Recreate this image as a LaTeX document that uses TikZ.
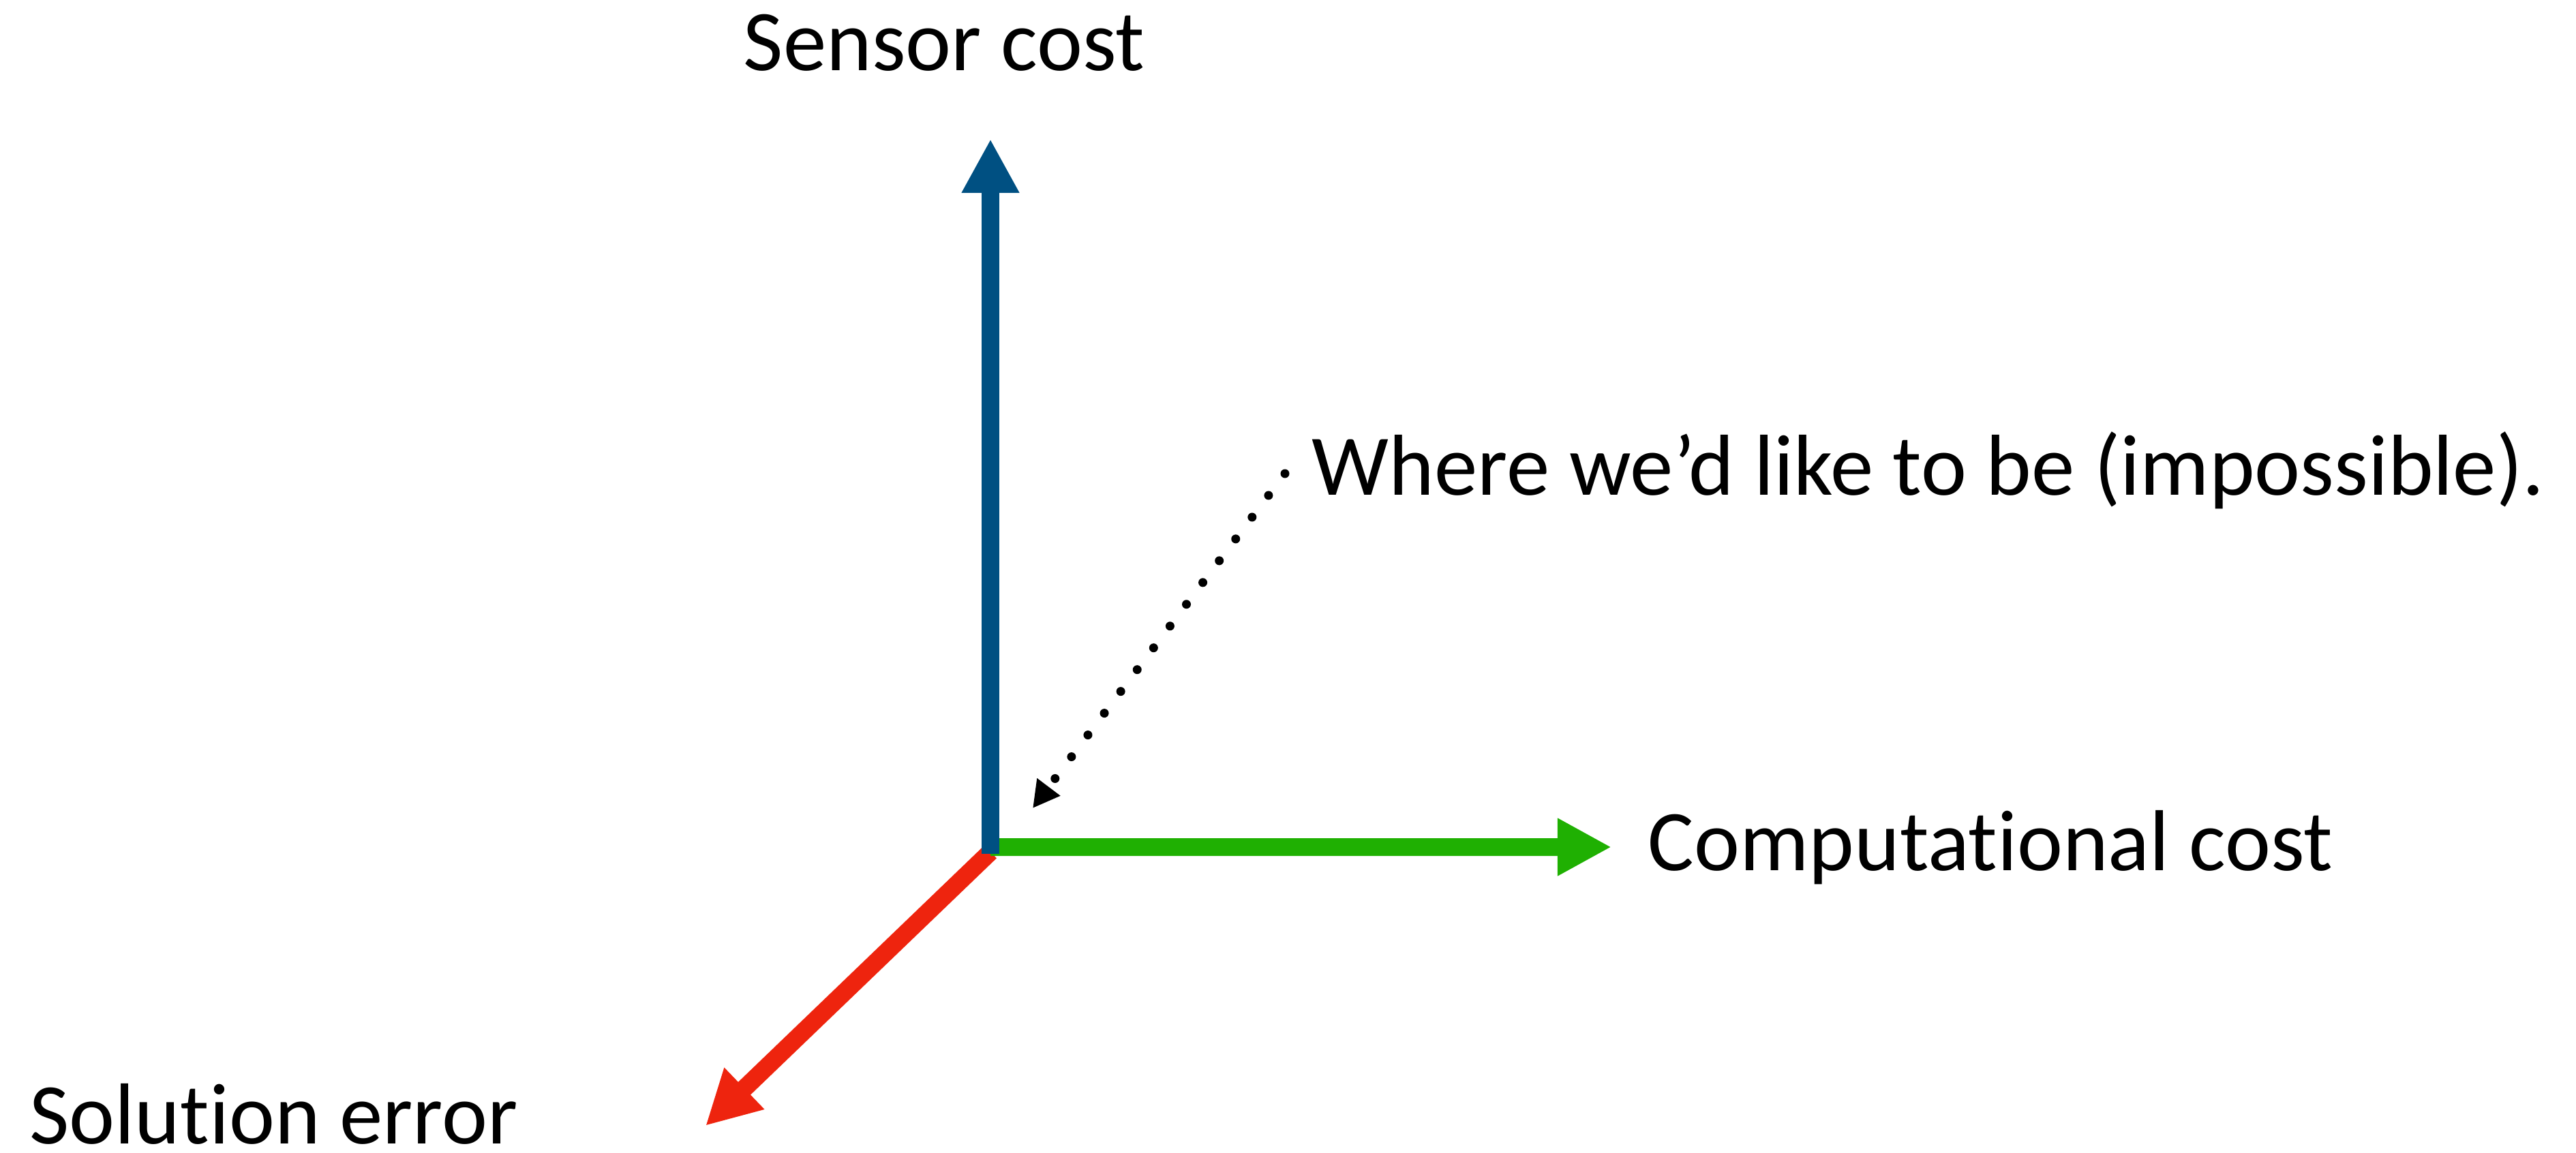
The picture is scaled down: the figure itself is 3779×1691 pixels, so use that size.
\documentclass[tikz,border=0pt]{standalone}
\usepackage{fontspec}
\setmainfont{Carlito}[Ligatures={CommonOff,ContextualOff},Contextuals=AlternateOff]
\usepackage{xcolor}
\usepackage{tikz}
\usetikzlibrary{arrows.meta,positioning}
\definecolor{sensorblue}{RGB}{0,80,130}
\definecolor{compgreen}{RGB}{31,176,2}
\definecolor{errorred}{RGB}{238,36,14}
\tikzstyle{axis}=[
line width=0.26cm,
-{Triangle[length=0.79cm,width=0.79cm]}
]
\tikzstyle{axislabel}=[
inner sep=0pt,
font=\fontsize{36.1}{43}\selectfont
]
\tikzstyle{hint}=[
line width=0.13cm,
line cap=round,
dash pattern=on 0pt off 0.40cm,
-{Triangle[length=0.39cm,width=0.40cm]}
]
% keeps t and i apart (no ti ligature)
\newcommand{\tnoi}{t\kern0pt i}

\begin{document}
\begin{tikzpicture}[x=0.01cm,y=-0.01cm]
\useasboundingbox (0,0) rectangle (3779,1691);

\coordinate (origin) at (1453,1250);
\coordinate (sensortip) at (1453,204);
\coordinate (comptip) at (2364,1243);
\coordinate (errortip) at (1035,1652);
\coordinate (wishstart) at (1885,695);
\coordinate (wishend) at (1515,1186);

\node (sensor) [axislabel, anchor=base] at (1385,104) {Sensor cost};
\node (comp) [axislabel, anchor=base west] at (2417,1277) {Computa\tnoi onal cost};
\node (error) [axislabel, anchor=base west] at (43,1678) {Solu\tnoi on error};
\node (wish) [axislabel, anchor=base west] at (1924,726) {Where we’d like to be (impossible).};

\draw [axis, errorred] (origin) -- (errortip);
\draw [axis, compgreen] ([yshift=0.07cm]origin) -- (comptip);
\draw [axis, sensorblue] ([yshift=-0.03cm]origin) -- (sensortip);

\draw [hint] (wishstart) -- (wishend);

\end{tikzpicture}
\end{document}
